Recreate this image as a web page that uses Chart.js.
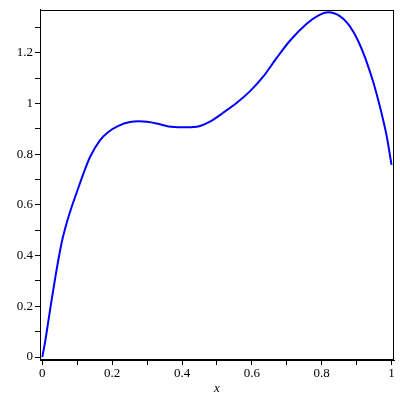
<!DOCTYPE html>
<html>
<head>
<meta charset="utf-8">
<script src="https://cdn.jsdelivr.net/npm/chart.js@4/dist/chart.umd.min.js"></script>
<style>
html,body{margin:0;padding:0;background:#fff;}
#wrap{width:400px;height:400px;}
</style>
</head>
<body>
<div id="wrap"><canvas id="c" width="400" height="400"></canvas></div>
<script>
const xValues = [0, 0.009, 0.016, 0.023, 0.031, 0.037, 0.046, 0.056, 0.069, 0.084, 0.100, 0.118, 0.137, 0.165, 0.189, 0.218, 0.251, 0.275, 0.300, 0.328, 0.361, 0.40, 0.442, 0.48, 0.518, 0.557, 0.595, 0.633, 0.671, 0.709, 0.757, 0.79, 0.819, 0.852, 0.873, 0.891, 0.905, 0.919, 0.934, 0.948, 0.962, 0.976, 0.986, 1.0];
const yValues = [0.0, 0.068, 0.130, 0.193, 0.262, 0.312, 0.384, 0.455, 0.525, 0.592, 0.655, 0.725, 0.790, 0.855, 0.888, 0.912, 0.927, 0.930, 0.928, 0.921, 0.910, 0.907, 0.909, 0.929, 0.964, 1.003, 1.049, 1.107, 1.180, 1.248, 1.315, 1.347, 1.360, 1.345, 1.318, 1.282, 1.245, 1.200, 1.143, 1.083, 1.013, 0.935, 0.872, 0.758];
const xTicks = [0, 0.1, 0.2, 0.3, 0.4, 0.5, 0.6, 0.7, 0.8, 0.9, 1];
const xTickLabels = ['0', '', '0.2', '', '0.4', '', '0.6', '', '0.8', '', '1'];
const yTicks = [0, 0.1, 0.2, 0.3, 0.4, 0.5, 0.6, 0.7, 0.8, 0.9, 1, 1.1, 1.2, 1.3];
const yTickLabels = ['0', '', '0.2', '', '0.4', '', '0.6', '', '0.8', '', '1', '', '1.2', ''];
const xTitle = 'x';

const points = xValues.map((x, i) => ({x: x, y: yValues[i]}));

const frame = {
  id: 'frame',
  afterDraw(chart) {
    const a = chart.chartArea, ctx = chart.ctx;
    ctx.save();
    ctx.strokeStyle = '#000';
    ctx.lineWidth = 1;
    ctx.strokeRect(Math.round(a.left) + 0.5, Math.round(a.top) + 0.5, Math.round(a.right - a.left) - 1, Math.round(a.bottom - a.top) - 1);
    ctx.restore();
  }
};

new Chart(document.getElementById('c'), {
  type: 'line',
  data: {
    datasets: [{
      data: points,
      borderColor: '#0000ff',
      borderWidth: 2,
      pointRadius: 0,
      fill: false,
      cubicInterpolationMode: 'monotone'
    }]
  },
  options: {
    responsive: false,
    animation: false,
    devicePixelRatio: 1,
    layout: {padding: {top: 6, right: 6, left: 0, bottom: 0}},
    plugins: {legend: {display: false}, tooltip: {enabled: false}},
    scales: {
      x: {
        type: 'linear',
        min: -0.0066,
        max: 1.007,
        afterBuildTicks(s) { s.ticks = xTicks.map(v => ({value: v})); },
        afterFit(s) { s.height = 40; },
        ticks: {
          autoSkip: false,
          maxRotation: 0,
          padding: 1,
          color: '#000',
          font: {family: 'Liberation Serif', size: 13},
          callback: (v, i) => xTickLabels[i]
        },
        grid: {display: true, drawOnChartArea: false, drawTicks: true, tickLength: 5, color: '#000'},
        border: {display: true, color: '#000'},
        title: {display: true, text: xTitle, color: '#000', font: {family: 'Liberation Serif', size: 13, style: 'italic'}, padding: {top: 2, bottom: 4}}
      },
      y: {
        type: 'linear',
        min: -0.0117,
        max: 1.37,
        afterBuildTicks(s) { s.ticks = yTicks.map(v => ({value: v})); },
        afterFit(s) { s.width = 40; },
        ticks: {
          autoSkip: false,
          padding: 2,
          color: '#000',
          font: {family: 'Liberation Serif', size: 13},
          callback: (v, i) => yTickLabels[i]
        },
        grid: {display: true, drawOnChartArea: false, drawTicks: true, tickLength: 5, color: '#000'},
        border: {display: true, color: '#000'}
      }
    }
  },
  plugins: [frame]
});
</script>
</body>
</html>
